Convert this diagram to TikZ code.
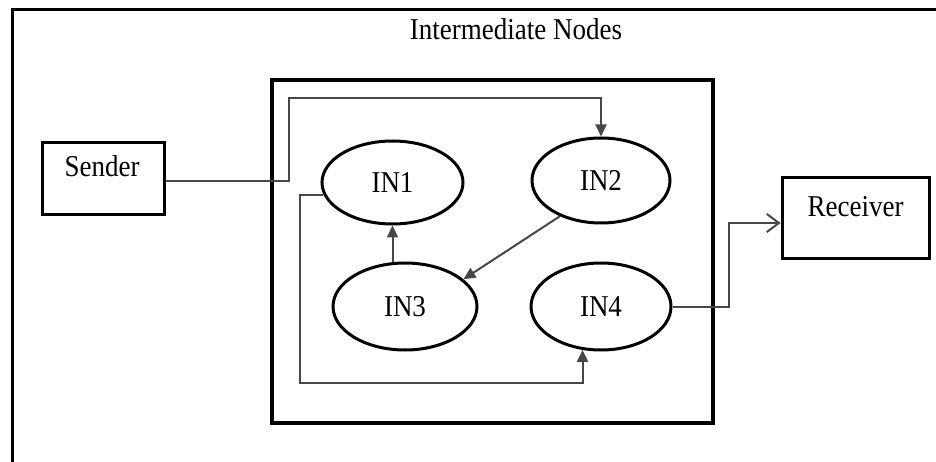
\documentclass[tikz,border=0pt]{standalone}
\usepackage{graphicx}
\usepackage{fontspec}
\setmainfont{Liberation Serif}
\usetikzlibrary{shapes.geometric,arrows.meta}
\newcommand{\tallTxt}[1]{\scalebox{1}[1.12]{#1}}
\begin{document}
\begin{tikzpicture}[x=1pt,y=-1pt,
  every node/.style={font=\fontsize{27}{30}\selectfont},
  frame/.style={draw=black,line width=3pt},
  boxnode/.style={draw=black,line width=3pt,rectangle,inner sep=0pt},
  innode/.style={draw=black,line width=3pt,ellipse,inner sep=0pt,minimum width=141pt,minimum height=83pt},
  conn/.style={draw=black!72,line width=2pt},
  tri/.style={-{Triangle[length=12pt,width=11pt]}},
  barb/.style={-{Straight Barb[length=12pt,width=18pt,line width=2pt]}}
]
\useasboundingbox (0,0) rectangle (936,462);
\clip (0,0) rectangle (936,462);
\fill[white] (0,0) rectangle (936,462);
% outer frame
\draw[frame] (12,10) rectangle (960,480);
\node[anchor=base] (title) at (516,40) {\tallTxt{Intermediate Nodes}};
% inner box
\node[boxnode,minimum width=441pt,minimum height=343pt,line width=3.5pt] (inner) at (492.5,251.5) {};
% sender and receiver
\node[boxnode,minimum width=122pt,minimum height=72pt] (sender) at (103,179) {};
\node[anchor=base] (sendertxt) at (102,177) {\tallTxt{Sender}};
\node[boxnode,minimum width=147pt,minimum height=80pt] (receiver) at (855.5,218) {};
\node[anchor=base] (receivertxt) at (855.5,217) {\tallTxt{Receiver}};
% intermediate nodes
\node[innode] (in1) at (392.5,182.5) {\tallTxt{IN1}};
\node[innode,minimum width=138pt,minimum height=85pt] (in2) at (601,180.5) {\tallTxt{IN2}};
\node[innode,minimum width=144pt,minimum height=87pt] (in3) at (405,306.5) {\tallTxt{IN3}};
\node[innode,minimum width=140pt,minimum height=87pt] (in4) at (601,306.5) {\tallTxt{IN4}};
% connectors
\draw[conn,tri] (sender.east |- 0,181) -- (289,181) -- (289,98) -| (in2.north);
\draw[conn,tri] (in1.190) -| (300,383) -| (in4.247);
\draw[conn,tri] (in1.south |- in3.north) -- (in1.south);
\draw[conn,tri] (in2.221) -- (in3.25);
\draw[conn,barb] (in4.east) -- ++(56,0) |- ([yshift=-5pt]receiver.west);
\end{tikzpicture}
\end{document}
